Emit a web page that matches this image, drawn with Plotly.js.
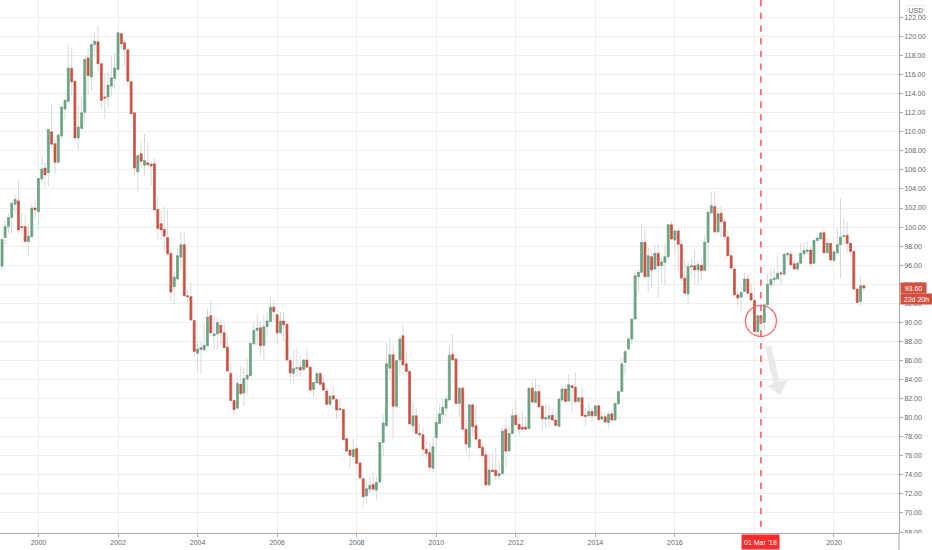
<!DOCTYPE html>
<html>
<head>
<meta charset="utf-8">
<script src="https://cdn.plot.ly/plotly-3.0.1.min.js"></script>
<style>html,body{margin:0;padding:0;background:#fff;}</style>
</head>
<body>
<div id="chart" style="width:932px;height:550px;"></div>
<script>
// monthly candles, Feb 1999 to Oct 2020, one line per year
var firstYear = 1999, firstMonth = 2;

var opens = [
  95.9,98.9,100.05,101,102.4,102.75,100.05,100.05,98.5,99,102,
  101.6,105.05,106.2,105.7,110,108.75,106.8,109.55,112.4,113.2,116.65,115.3,
  109.35,110.35,112.05,117.75,115.75,119.15,119.45,117.15,113.65,113.65,114.8,115.6,
  116.55,120.3,119.35,118.6,115.25,112,105.8,107.7,106.5,106.75,106.6,106.65,
  101.85,100.35,99.75,98.9,97.25,93.75,94.55,96.85,98.15,92.8,92.7,90.2,
  86.75,87.15,87.1,87.55,90.7,88.6,88.8,89.7,88.9,87.4,84.65,81.8,
  81,83.5,82.6,84.05,84.4,87.75,89.15,89.45,87.6,89.55,90.1,91.6,
  90.8,88.9,90.15,89.8,86,84.65,85.15,85.3,85.05,86.05,85.3,82.95,
  83.65,84.65,83.65,82.8,81.4,82.3,81.9,80.95,80.85,77.8,76.6,75.9,
  76.75,75.25,73.6,71.8,72.5,73,72.4,73.25,77.4,79.15,85.2,86.6,
  81.2,86.05,88.6,85.65,84.85,79.15,80.2,78.35,78.2,76.7,76.35,74.7,
  77.9,79.4,80.35,81,81.85,86.65,86.15,81.5,83.1,78.8,76.9,81.35,
  79.15,77.7,76.9,76.1,72.95,74.5,74.5,73.9,74.15,78.8,76.5,78.35,
  80.25,79.3,79,79,78.85,83.1,81.6,82.75,81.2,79.85,79.9,80.25,
  79.75,79.1,81.85,83,81.75,83.35,83.2,81.7,82.1,80.25,80.2,80.65,
  80.2,81.25,79.85,80.1,79.5,80.4,79.75,81.45,82.75,85.8,87.2,88.25,
  90.35,94.8,95.25,98.4,94.8,96.9,95.6,97.25,95.95,96.3,96.9,100.25,
  98.65,99.6,98.2,94.65,93,95.8,95.95,95.5,96,95.45,98.4,101.5,
  102.15,99.5,101.45,100.55,98.95,97,95.6,92.9,92.65,93.25,94.55,93.05,
  92.3,89.05,90.7,90,91.85,93.95,94.5,94.55,95.2,95.05,97.1,97.15,
  96.15,95.6,96.2,97.2,97.45,97.6,96.2,98.6,98.75,99.4,97.3,98.3,
  96.5,97.3,98.15,99,99.15,98.3,97.45,93.5,92.2,93.85
];
var highs = [
  98.8,100.7,101.45,102.85,103.4,105,101.45,101.3,100.4,102.5,102.8,
  105.2,107.45,106.75,110.3,112.95,109.2,109.9,112.7,113.45,119.15,118.75,115.5,
  112.7,113.65,117.7,118.8,119.3,120.4,121.1,117.2,116.2,116.35,117.95,118.3,
  120.45,120.35,119.6,118.7,115.3,112,107.5,109,109.8,108.85,106.95,107.25,
  103.2,101.8,102.15,101.8,97.25,95.35,97.8,99.5,99.4,93.4,94.2,90.25,
  88,88,89.9,91.5,92.35,90.45,90.45,90.25,89.9,88.7,85.7,81.8,
  84.1,85.4,85.2,86.2,87.85,90.1,90.8,90.1,90.8,91.1,92.7,92.35,
  90.95,91.1,91.1,89.9,86.4,87.1,87.3,86.55,86.2,87.3,85.5,83.75,
  84.8,84.7,84.45,83.05,82.55,83.25,82,82.1,80.85,77.8,76.75,77.8,
  77.1,75.35,73.7,73.25,73.8,74.3,73.8,77.45,80.3,87.9,88.45,87.65,
  86,88.7,89.65,86.9,84.9,81.5,81,79.4,79,77.5,77.3,78,
  80.45,81.35,82.05,82.2,87.5,88.75,86.2,83.3,83.3,79.8,81.35,81.4,
  81.35,77.7,77.25,76.8,76.25,76.4,76.8,75.55,78.9,79.95,79.05,80.9,
  81.85,80.1,80.75,80.1,83.15,83.9,84.15,83.45,81.3,81.4,81.3,81,
  80.45,82,83.25,83.4,84.55,83.35,84.8,82.2,83.1,81,81.5,81.1,
  81.3,81.3,80.65,80.5,80.65,80.8,81.55,82.8,86.25,87.05,88.5,90.45,
  95.5,95.5,100.4,99.8,97.8,97.45,98.15,98.3,96.75,98.3,100.3,100.6,
  99.75,99.75,98.65,96.65,96.4,96.75,97.6,96.5,96.7,99.15,101.6,103.65,
  103.8,101.95,102.25,100.9,99.7,97.6,95.8,93.6,93.75,95.15,95.15,94.1,
  93.05,90.7,90.8,91.95,95.15,95.6,95.7,97,95.5,97.2,97.4,97.55,
  96.55,96.4,98.3,98.35,98.5,97.95,98.65,99,99.5,99.7,98.8,98.35,
  97.45,99.95,103,100.9,100.55,98.5,97.5,93.55,94.8,93.95
];
var lows = [
  95.4,98.1,99.35,99.35,101.45,99.3,99.2,98.3,97,98.95,100.9,
  99.7,104.65,104.3,104.3,108.3,105.6,106.75,109.5,111.3,113.1,113.9,109.35,
  108.15,110.25,110.9,113.9,114.35,117.75,116.35,112.35,111.35,112.5,113.75,114.45,
  116.45,118.65,116.9,114.8,111.8,105.5,103.6,106.2,105.5,106.4,104.3,101.8,
  98.7,98.65,97.45,97.1,92.2,91.9,94.45,95.55,92.7,92,90.1,86.4,
  84.85,84.6,87,87.45,88.9,87.1,87.05,87.6,87.3,84.8,81.7,80.35,
  81,82.4,81.2,82.4,84.35,87.6,87.6,86.55,86.05,88.5,90.1,90.1,
  87.8,88.85,88,86.05,83.5,83.6,84.3,84.3,84.9,85.3,82.9,82.2,
  83.6,83.4,82.8,81.3,81.3,81.85,79.9,80.8,77.65,76.4,74.75,75.35,
  74.75,73.6,70.65,71.15,72.05,72.4,71.35,73.2,75.9,79.05,84,77.75,
  81,84.5,84.5,84.5,79.25,78.35,78.2,78,75.9,75.65,74.25,74.25,
  76.6,79.4,79.4,80.1,81.8,86,81.45,80.1,78.7,76.25,75.65,78,
  77.7,76.8,76,72.85,72.8,74.25,73.45,73.45,74.1,74.7,76.45,78.3,
  79.25,78.2,78.65,78.7,78.8,81.5,81.5,81,78.65,78.9,79.05,79.7,
  79.05,79,81.7,81.55,81.7,80.5,81.55,81.6,80.1,79.05,80,79.6,
  80.15,79.75,79.75,79.4,79,79.7,79.7,81.4,82.7,84.5,87.1,87.75,
  90.25,93.25,95.15,94.75,93.15,93.6,95.5,92.6,94,93.85,96.55,98.65,
  97.2,95.35,94.3,93,91.95,95,93.95,93.95,94.45,95.4,95.85,101.45,
  99.4,99.35,98.85,98.7,96.85,95.6,92.8,91.65,91.05,93.15,93,92.3,
  89,88.35,88.6,89.2,91.75,93.6,93.7,94.45,93.85,95,96.55,95.9,
  95.45,95.35,96.15,96.75,97.2,95.8,96.15,98.3,98.6,97.25,97.2,96.5,
  96.4,97.25,94.65,98.15,97.4,96.9,93.45,92,91.75,93.25
];
var closes = [
  98.7,100.05,101,102.5,102.9,99.7,99.95,98.5,99.05,102,101.8,
  105.1,106.1,105.5,110.25,108.7,106.8,109.65,112.6,113.3,116.7,115.25,109.35,
  110.5,112,117.6,115.9,119.15,119.5,117.15,113.3,113.55,114.9,115.65,116.7,
  120.4,119.25,118.65,115.3,111.9,106.2,107.5,106.9,107,106.55,106.4,101.8,
  99.85,99.7,99.05,97.2,93.2,94.75,97,98.15,92.8,92.7,90.25,86.95,
  87.2,87.35,87.6,90.55,88.9,88.8,90,88.9,87.35,84.9,81.8,80.85,
  83.6,82.5,84.1,84.45,87.8,89.15,89.4,87.55,89.55,90.15,91.6,91.15,
  88.9,90.15,89.75,86.05,84.7,85.15,85.25,85,86.05,85.3,82.9,83.7,
  84.65,83.5,82.9,81.4,82.25,81.95,80.8,80.85,77.7,76.5,76.05,76.65,
  75.2,73.7,71.7,72.55,72.9,72.5,73.2,77.4,79.45,85.65,86.6,81.2,
  86,88.25,85.55,84.85,79.35,80.2,78.35,78.2,76.7,76.25,74.8,76.95,
  79.5,80.4,81.1,81.95,86.55,86.05,81.5,83.1,78.8,77.25,81.35,79.05,
  77.75,76.85,76,72.95,74.5,74.35,73.9,74.15,78.6,76.5,78.35,80.2,
  79.25,78.8,78.8,78.8,83.1,81.65,82.75,81.15,79.9,80,80.2,79.75,
  79.2,81.95,83,81.7,83.45,83.15,81.7,82.1,80.2,80.15,80.65,80.2,
  81.25,79.8,80.1,79.55,80.35,79.75,81.5,82.75,85.65,86.95,88.25,90.35,
  94.9,95.25,98.4,94.8,97,95.5,97.25,95.95,96.35,96.9,100.25,98.75,
  99.6,98.2,94.65,93.05,95.85,95.95,95.5,96.05,95.45,98.4,101.55,102.25,
  99.5,101.4,100.55,99,97,95.7,92.9,92.55,93.15,94.55,93.05,92.35,
  89.05,90.7,89.9,91.85,94,94.5,94.65,95.15,95.1,97.15,97.25,96.05,
  95.6,96.2,97.25,97.55,97.6,96.15,98.6,98.85,99.4,97.3,98.3,96.55,
  97.4,98.15,98.95,99.1,98.3,97.45,93.5,92.1,93.85,93.6
];

var tickYears = ['2000','2002','2004','2006','2008','2010','2012','2014','2016','2018','2020'];
var tickLabels = ['2000','2002','2004','2006','2008','2010','2012','2014','2016','','2020'];
var markedDate = '2018-03-01';
var markedLabel = "01 Mar '18";
var lastPrice = 93.60;

// month dates for the candles
var dates = [];
for (var i=0;i<opens.length;i++) {
  var m = firstMonth-1+i;
  var yr = firstYear+Math.floor(m/12);
  var mo = m%12+1;
  dates.push(yr+'-'+(mo<10?'0':'')+mo+'-01');
}
var tickDates = tickYears.map(function(y){ return y+'-01-01'; });

var wick = '#d9d9d9', green = '#6ba583', red = '#d2503f';

// plot box in pixels, used for the hand drawn arrow only
var plotW = 898.7, plotH = 533;
function px(x,y){ return (x/plotW)+' '+(1-y/plotH); }

var traceWicks = {
  type:'candlestick', x:dates, open:opens, high:highs, low:lows, close:closes,
  increasing:{line:{color:wick,width:1},fillcolor:'rgba(0,0,0,0)'},
  decreasing:{line:{color:wick,width:1},fillcolor:'rgba(0,0,0,0)'},
  whiskerwidth:0, showlegend:false, hoverinfo:'skip'
};
// second layer: bodies only, so wicks can stay grey
var traceBodies = {
  type:'candlestick', x:dates, open:opens, close:closes,
  high:opens.map(function(o,i){ return Math.max(o,closes[i]); }),
  low:opens.map(function(o,i){ return Math.min(o,closes[i]); }),
  increasing:{line:{color:'#5f9c79',width:0.5},fillcolor:green},
  decreasing:{line:{color:'#c9483a',width:0.5},fillcolor:red},
  whiskerwidth:0, showlegend:false
};

var layout = {
  width:932, height:550,
  margin:{l:0,r:33.3,t:0,b:17,pad:0},
  paper_bgcolor:'#ffffff', plot_bgcolor:'#ffffff',
  font:{family:'Liberation Sans, Arial, sans-serif',size:7,color:'#666666'},
  boxgap:0.08, showlegend:false, dragmode:false,
  xaxis:{
    type:'date', range:['1999-01-13','2021-08-20'],
    tickmode:'array', tickvals:tickDates, ticktext:tickLabels,
    showgrid:true, gridcolor:'#eeeeee', gridwidth:1,
    showline:true, linecolor:'#a8a8a8', linewidth:1,
    ticks:'outside', ticklen:3, tickcolor:'#a8a8a8',
    tickfont:{size:7,color:'#666666'},
    rangeslider:{visible:false}, zeroline:false
  },
  yaxis:{
    side:'right', range:[67.9,123.83],
    dtick:2, tick0:68, tickformat:'.2f',
    showgrid:true, gridcolor:'#eeeeee', gridwidth:1,
    showline:true, linecolor:'#a8a8a8', linewidth:1,
    ticks:'outside', ticklen:3, tickcolor:'#a8a8a8',
    tickfont:{size:7,color:'#666666'}, zeroline:false
  },
  shapes:[
    // crop the 68.00 label at the axis, the axis line runs on to the bottom
    {type:'rect',xref:'paper',yref:'paper',x0:1,x1:1.04,y0:-0.032,y1:-0.0005,layer:'above',fillcolor:'#ffffff',line:{width:0}},
    {type:'line',xref:'paper',yref:'paper',x0:1,x1:1,y0:0,y1:-0.032,layer:'above',line:{color:'#a8a8a8',width:1}},
    // date marker
    {type:'line',xref:'x',yref:'paper',x0:markedDate,x1:markedDate,y0:1,y1:0,layer:'above',
      line:{color:'#ff6f76',width:1.8,dash:'6.3px,6.4px'}},
    // circle around the candle
    {type:'circle',xref:'x',yref:'y',xsizemode:'pixel',ysizemode:'pixel',xanchor:markedDate,yanchor:90.15,
      x0:-15.5,x1:15.5,y0:-15.5,y1:15.5,layer:'above',line:{color:'#ff5f66',width:1.2}},
    // grey arrow
    {type:'path',xref:'paper',yref:'paper',layer:'above',fillcolor:'#e9e9e9',line:{width:0},
      path:'M '+px(765,346.7)+' L '+px(771,345.7)+' L '+px(779.3,381.7)+' L '+px(787.7,380)+
           ' L '+px(780,395)+' L '+px(767.3,386)+' L '+px(773.3,383.3)+' Z'}
  ],
  annotations:[
    {xref:'x',yref:'paper',x:markedDate,y:0,yanchor:'top',xanchor:'center',yshift:-0.5,
      text:markedLabel,showarrow:false,bgcolor:'#ff2a2a',width:37,height:14,borderpad:0,
      font:{size:7,color:'#ffffff'}},
    {xref:'paper',yref:'y',x:1,y:lastPrice,xanchor:'left',yanchor:'middle',xshift:0.5,
      text:lastPrice.toFixed(2),showarrow:false,bgcolor:red,width:25,height:10,borderpad:0,
      font:{size:7,color:'#ffffff'}},
    {xref:'paper',yref:'y',x:1,y:lastPrice,xanchor:'left',yanchor:'middle',xshift:0.5,yshift:-11,
      text:'22d 20h',showarrow:false,bgcolor:red,width:31,height:10,borderpad:0,
      font:{size:7,color:'#ffffff'}},
    {xref:'paper',yref:'paper',x:1,y:1,xanchor:'left',yanchor:'top',xshift:8,yshift:-5,
      text:'USD',showarrow:false,bgcolor:'#ffffff',bordercolor:'#eeeeee',borderwidth:1,borderpad:0.5,
      font:{size:7,color:'#666666'}}
  ]
};

Plotly.newPlot('chart',[traceWicks,traceBodies],layout,{displayModeBar:false,staticPlot:true});
</script>
</body>
</html>
